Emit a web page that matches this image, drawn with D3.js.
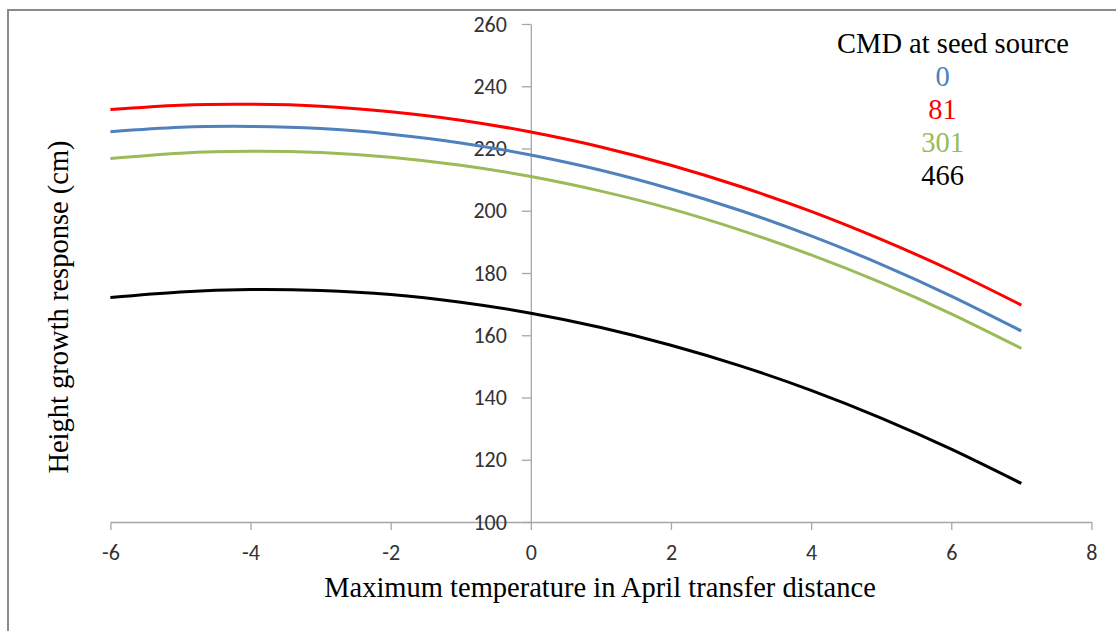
<!DOCTYPE html>
<html>
<head>
<meta charset="utf-8">
<script src="https://cdn.jsdelivr.net/npm/d3@7"></script>
<style>
  html, body { margin: 0; padding: 0; background: #fff; }
  svg { display: block; }
</style>
</head>
<body>
<svg id="chart" width="1116" height="631"></svg>
<script>
// ---- data ----
const xValues = [-6, -5, -4, -3, -2, -1, 0, 1, 2, 3, 4, 5, 6, 7];
const cmd0   = [225.4, 226.8, 227.1, 226.4, 224.6, 221.8, 217.9, 213.0, 207.0, 200.0, 191.9, 182.8, 172.6, 161.4];
const cmd81  = [232.5, 233.9, 234.2, 233.6, 231.8, 229.1, 225.3, 220.5, 214.6, 207.7, 199.8, 190.8, 180.8, 169.7];
const cmd301 = [216.8, 218.5, 219.1, 218.7, 217.2, 214.6, 211.0, 206.3, 200.6, 193.7, 185.8, 176.9, 166.9, 155.8];
const cmd466 = [172.1, 173.9, 174.7, 174.4, 173.1, 170.6, 167.1, 162.5, 156.8, 150.1, 142.3, 133.4, 123.4, 112.4];
const seriesNames = ["0", "81", "301", "466"];
const seriesColors = ["#4f81bd", "#ff0000", "#9bbb59", "#000000"];
const xTicks = [-6, -4, -2, 0, 2, 4, 6, 8];
const yTicks = [100, 120, 140, 160, 180, 200, 220, 240, 260];
const legendTitle = "CMD at seed source";
const xTitle = "Maximum temperature in April transfer distance";
const yTitle = "Height growth response (cm)";

const seriesValues = [cmd0, cmd81, cmd301, cmd466];
const series = seriesNames.map((name, i) => ({
  name, color: seriesColors[i],
  points: xValues.map((x, j) => ({ x, y: seriesValues[i][j] }))
}));

const svg = d3.select("#chart");

// outer chart border (extends past right/bottom of viewport)
svg.append("rect")
  .attr("x", 8).attr("y", 10)
  .attr("width", 1200).attr("height", 700)
  .attr("fill", "none").attr("stroke", "#8a8a8a").attr("stroke-width", 2);

const x = d3.scaleLinear().domain([-6, 8]).range([110.4, 1091.4]);
const y = d3.scaleLinear().domain([100, 260]).range([522, 24]);

const tickFont = "Carlito, Calibri, Lato, 'Open Sans', sans-serif";
const axisColor = "#a6a6a6";
const fmt = d => String(d);

// x axis
const gx = svg.append("g")
  .attr("transform", `translate(0,${y(100)})`)
  .call(d3.axisBottom(x).tickValues(xTicks).tickSize(8).tickSizeOuter(0).tickPadding(14)
        .tickFormat(fmt));
gx.selectAll("path, line").attr("stroke", axisColor).attr("stroke-width", 1.3);
gx.selectAll("text").attr("font-family", tickFont).attr("font-size", 22).attr("fill", "#333");

// y axis at x = 0
const gy = svg.append("g")
  .attr("transform", `translate(${x(0)},0)`)
  .call(d3.axisLeft(y).tickValues(yTicks).tickSize(9).tickSizeOuter(0).tickPadding(15)
        .tickFormat(fmt));
gy.selectAll("path, line").attr("stroke", axisColor).attr("stroke-width", 1.3);
gy.selectAll("text").attr("font-family", tickFont).attr("font-size", 22).attr("fill", "#333");

// lines
const line = d3.line().x(d => x(d.x)).y(d => y(d.y)).curve(d3.curveNatural);
svg.append("g").selectAll("path")
  .data(series)
  .join("path")
  .attr("d", d => line(d.points))
  .attr("fill", "none")
  .attr("stroke", d => d.color)
  .attr("stroke-width", 3)
  .attr("stroke-linecap", "butt");

const serif = "'Liberation Serif', 'Times New Roman', serif";

// axis titles
svg.append("text")
  .attr("x", 600).attr("y", 597)
  .attr("text-anchor", "middle")
  .attr("font-family", serif).attr("font-size", 28.5).attr("fill", "#000")
  .text(xTitle);

svg.append("text")
  .attr("transform", "translate(67.5,307) rotate(-90)")
  .attr("text-anchor", "middle")
  .attr("font-family", serif).attr("font-size", 28.5).attr("fill", "#000")
  .text(yTitle);

// legend
const lg = svg.append("g");
lg.append("text")
  .attr("x", 953).attr("y", 53)
  .attr("text-anchor", "middle")
  .attr("font-family", serif).attr("font-size", 28.5).attr("fill", "#000")
  .text(legendTitle);
lg.selectAll("text.item")
  .data(series)
  .join("text")
  .attr("class", "item")
  .attr("x", 942.5)
  .attr("y", (d, i) => 86 + i * 33)
  .attr("text-anchor", "middle")
  .attr("font-family", serif).attr("font-size", 28.5)
  .attr("fill", d => d.color)
  .text(d => d.name);
</script>
</body>
</html>
